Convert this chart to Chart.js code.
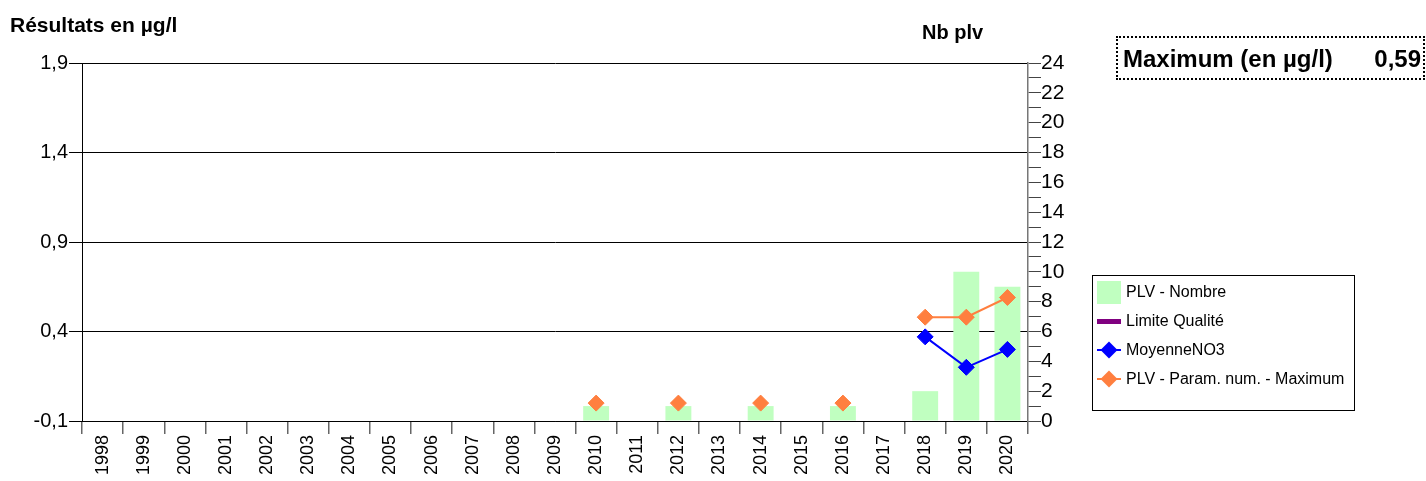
<!DOCTYPE html>
<html><head><meta charset="utf-8">
<script src="https://cdn.jsdelivr.net/npm/chart.js@4"></script>
<style>
html,body{margin:0;padding:0;background:#fff;font-family:"Liberation Sans",Arial,sans-serif;}
#wrap{position:relative;width:1426px;height:481px;}
canvas{position:absolute;left:0;top:0;}
.t{position:absolute;font-weight:bold;color:#000;white-space:nowrap;line-height:1;}
#maxbox{position:absolute;left:1116px;top:36px;width:305px;height:40px;border:2px dotted #000;font-weight:bold;font-size:24px;line-height:1;}
#legend{position:absolute;left:1092px;top:275px;width:261px;height:134px;border:1px solid #000;font-size:16px;}
.li{position:absolute;left:4px;height:24px;display:flex;align-items:center;white-space:nowrap;}
.sw{width:24px;height:23px;position:relative;margin-right:5px;}
</style></head>
<body>
<div id="wrap">
<canvas id="c" width="1426" height="481"></canvas>
<div class="t" style="left:10px;top:14px;font-size:21px;">Résultats en µg/l</div>
<div class="t" style="left:922px;top:22px;font-size:20px;">Nb plv</div>
<div id="maxbox"><span style="position:absolute;left:5px;top:9px;">Maximum (en µg/l)</span><span style="position:absolute;right:2px;top:9px;">0,59</span></div>
<div id="legend"></div>
</div>
<script>
const years = ['1998','1999','2000','2001','2002','2003','2004','2005','2006','2007','2008','2009','2010','2011','2012','2013','2014','2015','2016','2017','2018','2019','2020'];
const plvNombre = [null,null,null,null,null,null,null,null,null,null,null,null,1,null,1,null,1,null,1,null,2,10,9];
const limiteQualite = years.map(()=>null);
const moyenneNO3 = [null,null,null,null,null,null,null,null,null,null,null,null,null,null,null,null,null,null,null,null,0.37,0.20,0.30];
const plvMaximum = [null,null,null,null,null,null,null,null,null,null,null,null,0.0,null,0.0,null,0.0,null,0.0,null,0.48,0.48,0.59];
const leftTicks = [-0.1,0.4,0.9,1.4,1.9];

const GREEN='#c0ffc0', PURPLE='#800080', BLUE='#0000ff', ORANGE='#ff7f3f';
const FAM='"Liberation Sans", Arial, sans-serif';

new Chart(document.getElementById('c'),{
  data:{labels:years,datasets:[
    {type:'line',label:'MoyenneNO3',data:moyenneNO3,yAxisID:'y',borderColor:BLUE,backgroundColor:BLUE,borderWidth:2,pointStyle:'rectRot',pointRadius:8,pointBorderWidth:1,spanGaps:false,order:1},
    {type:'line',label:'PLV - Param. num. - Maximum',data:plvMaximum,yAxisID:'y',borderColor:ORANGE,backgroundColor:ORANGE,borderWidth:2,pointStyle:'rectRot',pointRadius:8,pointBorderWidth:1,spanGaps:false,order:0},
    {type:'line',label:'Limite Qualité',data:limiteQualite,yAxisID:'y',borderColor:PURPLE,backgroundColor:PURPLE,borderWidth:3,pointRadius:0,order:2},
    {type:'bar',label:'PLV - Nombre',data:plvNombre,yAxisID:'y1',backgroundColor:GREEN,borderWidth:0,barPercentage:0.63,categoryPercentage:1,order:5}
  ]},
  options:{
    responsive:false,animation:false,
    layout:{padding:{top:63,left:0,right:0,bottom:0}},
    plugins:{legend:{display:false},tooltip:{enabled:false}},
    scales:{
      x:{offset:true,
        grid:{offset:true,drawOnChartArea:false,drawTicks:true,tickLength:13,color:'#666',lineWidth:1.5},
        border:{display:true,color:'#000',width:1},
        ticks:{font:{family:FAM,size:18},color:'#000',minRotation:90,maxRotation:90,autoSkip:false,padding:1},
        afterFit(s){s.height=60;}
      },
      y:{position:'left',min:-0.1,max:1.9,
        afterBuildTicks(s){s.ticks=leftTicks.map(v=>({value:v}));},
        ticks:{font:{family:FAM,size:20},color:'#000',padding:1,callback:v=>Number(v).toFixed(1).replace('.',',')},
        grid:{color:'#000',lineWidth:1,tickLength:13,drawTicks:true},
        border:{display:true,color:'#000',width:1},
        afterFit(s){s.width=82;}
      },
      y1:{position:'right',min:0,max:24,
        ticks:{stepSize:1,autoSkip:false,font:{family:FAM,size:21},color:'#000',padding:0,callback:v=>(v%2===0?String(v):'')},
        grid:{drawOnChartArea:false,tickLength:13,color:'#444',lineWidth:1},
        border:{display:true,color:'#777',width:1.5},
        afterFit(s){s.width=398;}
      }
    }
  }
});

const legendItems=[
  {label:'PLV - Nombre',kind:'box',color:GREEN},
  {label:'Limite Qualité',kind:'line',color:PURPLE},
  {label:'MoyenneNO3',kind:'diamond',color:BLUE},
  {label:'PLV - Param. num. - Maximum',kind:'diamond',color:ORANGE}
];
const lg=document.getElementById('legend');
legendItems.forEach((it,i)=>{
  const row=document.createElement('div');row.className='li';row.style.top=(4+i*29)+'px';
  const sw=document.createElement('div');sw.className='sw';
  if(it.kind==='box'){sw.style.background=it.color;}
  else if(it.kind==='line'){sw.innerHTML='<div style="position:absolute;left:0;top:9px;width:24px;height:5px;background:'+it.color+'"></div>';}
  else{sw.innerHTML='<div style="position:absolute;left:0;top:10px;width:24px;height:2px;background:'+it.color+'"></div><div style="position:absolute;left:6px;top:5px;width:12px;height:12px;background:'+it.color+';transform:rotate(45deg)"></div>';}
  const tx=document.createElement('span');tx.textContent=it.label;
  row.appendChild(sw);row.appendChild(tx);lg.appendChild(row);
});
</script>
</body></html>
